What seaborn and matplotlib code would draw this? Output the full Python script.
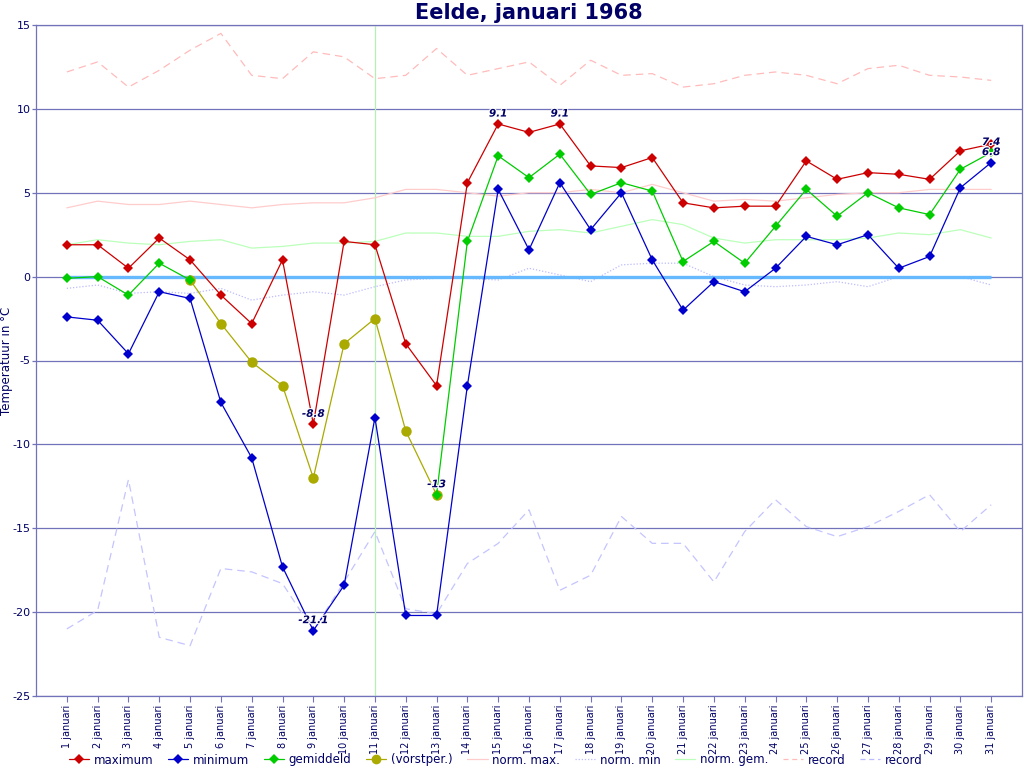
import matplotlib
matplotlib.use("Agg")
import matplotlib.pyplot as plt
import matplotlib.patheffects as pe
from matplotlib.lines import Line2D
import seaborn as sns
import numpy as np
import pandas as pd

# ---------------- data ----------------
days = list(range(1, 32))
day_labels = [f"{d} januari" for d in days]

max_temp = [1.9, 1.9, 0.5, 2.3, 1.0, -1.1, -2.8, 1.0, -8.8, 2.1, 1.9, -4.0, -6.5, 5.6, 9.1,
            8.6, 9.1, 6.6, 6.5, 7.1, 4.4, 4.1, 4.2, 4.2, 6.9, 5.8, 6.2, 6.1, 5.8, 7.5, 7.9]
min_temp = [-2.4, -2.6, -4.6, -0.9, -1.3, -7.5, -10.8, -17.3, -21.1, -18.4, -8.4, -20.2, -20.2, -6.5, 5.2,
            1.6, 5.6, 2.8, 5.0, 1.0, -2.0, -0.3, -0.9, 0.5, 2.4, 1.9, 2.5, 0.5, 1.2, 5.3, 6.8]
gem_temp = [-0.1, 0.0, -1.1, 0.8, -0.2, None, None, None, None, None, None, None, -13.0, 2.1, 7.2,
            5.9, 7.3, 4.9, 5.6, 5.1, 0.9, 2.1, 0.8, 3.0, 5.2, 3.6, 5.0, 4.1, 3.7, 6.4, 7.4]
vorst_temp = [None, None, None, None, -0.2, -2.8, -5.1, -6.5, -12.0, -4.0, -2.5, -9.2, -13.0, None, None,
              None, None, None, None, None, None, None, None, None, None, None, None, None, None, None, None]
norm_max = [4.1, 4.5, 4.3, 4.3, 4.5, 4.3, 4.1, 4.3, 4.4, 4.4, 4.7, 5.2, 5.2, 5.0, 4.8,
            5.0, 5.0, 5.2, 5.0, 5.5, 5.0, 4.5, 4.6, 4.5, 4.7, 4.9, 5.0, 5.0, 5.2, 5.2, 5.2]
norm_min = [-0.7, -0.5, -1.0, -0.9, -1.0, -0.7, -1.4, -1.1, -0.9, -1.1, -0.6, -0.2, -0.1, -0.1, -0.2,
            0.5, 0.1, -0.3, 0.7, 0.8, 0.8, 0.0, -0.5, -0.6, -0.5, -0.3, -0.6, 0.0, -0.1, 0.0, -0.5]
norm_gem = [1.9, 2.2, 2.0, 1.9, 2.1, 2.2, 1.7, 1.8, 2.0, 2.0, 2.1, 2.6, 2.6, 2.4, 2.4,
            2.7, 2.8, 2.6, 3.0, 3.4, 3.1, 2.3, 2.0, 2.2, 2.2, 2.2, 2.3, 2.6, 2.5, 2.8, 2.3]
record_max = [12.2, 12.8, 11.3, 12.3, 13.5, 14.5, 12.0, 11.8, 13.4, 13.1, 11.8, 12.0, 13.6, 12.0, 12.4,
              12.8, 11.4, 12.9, 12.0, 12.1, 11.3, 11.5, 12.0, 12.2, 12.0, 11.5, 12.4, 12.6, 12.0, 11.9, 11.7]
record_min = [-21.0, -19.9, -12.1, -21.5, -22.0, -17.4, -17.6, -18.3, -21.1, -18.2, -15.2, -19.8, -20.1, -17.1, -15.9,
              -13.9, -18.7, -17.8, -14.3, -15.9, -15.9, -18.2, -15.2, -13.3, -14.9, -15.5, -14.9, -14.0, -13.0, -15.2, -13.6]
marker_day = 11

# ---------------- style ----------------
NAVY = "#000066"
GRID = "#7272bb"
C_MAX, C_MIN, C_GEM, C_VORST = "#cc0000", "#0000cc", "#00cc00", "#aaaa00"

sns.set_theme(style="white")
plt.rcParams["font.family"] = ["DejaVu Sans"]
plt.rcParams["axes.unicode_minus"] = False

fig = plt.figure(figsize=(10.24, 7.68), dpi=100)
ax = fig.add_axes([36 / 1024, 1 - 696 / 768, (1022 - 36) / 1024, (696 - 25) / 768])


def segments(xs, ys):
    seg_x, seg_y = [], []
    for x, y in zip(xs, ys):
        if y is None:
            if seg_x:
                yield seg_x, seg_y
            seg_x, seg_y = [], []
        else:
            seg_x.append(x)
            seg_y.append(y)
    if seg_x:
        yield seg_x, seg_y


def draw(ys, **kw):
    for sx, sy in segments(days, ys):
        sns.lineplot(x=sx, y=sy, ax=ax, legend=False, **kw)


# background reference lines
ax.axvline(marker_day, color="#b4f0b4", lw=0.9, zorder=1)
draw(record_max, color="#ffbbbb", lw=0.9, linestyle=(0, (6, 4)), zorder=2)
draw(record_min, color="#c4c4ff", lw=0.9, linestyle=(0, (6, 4)), zorder=2)
draw(norm_max, color="#ffcccc", lw=0.9, zorder=2)
draw(norm_min, color="#bbbbff", lw=0.9, linestyle=(0, (1, 1.5)), zorder=2)
draw(norm_gem, color="#bbffbb", lw=0.9, zorder=2)
ax.hlines(0, days[0], days[-1], color="#66b8ff", lw=2.4, zorder=3)

# data series
mk = dict(markeredgewidth=0, zorder=5)
draw(vorst_temp, color=C_VORST, lw=0.9, marker="o", markersize=7.5, **mk)
draw(gem_temp, color=C_GEM, lw=0.9, marker="D", markersize=5, **mk)
draw(min_temp, color=C_MIN, lw=0.9, marker="D", markersize=5, **mk)
draw(max_temp, color=C_MAX, lw=0.9, marker="D", markersize=5, **mk)

# extreme labels
def annotate_extremes(ys):
    vals = [v for v in ys if v is not None]
    for target in (max(vals), min(vals)):
        for d, v in zip(days, ys):
            if v is not None and v == target:
                ax.annotate(f"{v:g}", (d, v), xytext=(0, 7.5), textcoords="offset points",
                            ha="center", va="center", fontsize=7.5, fontstyle="italic",
                            fontweight="bold", color=NAVY, zorder=8,
                            path_effects=[pe.withStroke(linewidth=1.5, foreground="white")])


annotate_extremes(max_temp)
annotate_extremes(min_temp)
annotate_extremes(gem_temp)

# axes
ax.set_xlim(0, 32)
ax.set_ylim(-25, 15)
ax.set_yticks(range(-25, 16, 5))
ax.set_xticks(days)
ax.set_xticklabels(day_labels, rotation=90, fontsize=7, color=NAVY)
ax.tick_params(axis="y", labelsize=8, colors=NAVY, length=3, width=0.9, pad=1, left=True)
ax.tick_params(axis="y", color=GRID)
ax.tick_params(axis="x", length=4, width=0.8, color=GRID, pad=2, bottom=True)
for lab in ax.get_yticklabels():
    lab.set_color(NAVY)
ax.grid(axis="y", color=GRID, lw=0.9)
ax.grid(axis="x", visible=False)
for s in ax.spines.values():
    s.set_color(GRID)
    s.set_linewidth(0.9)
ax.set_xlabel("")
ax.set_ylabel("Temperatuur in °C", fontsize=8.5, color=NAVY)
ax.yaxis.set_label_coords(-23 / 986, 0.5)
ax.set_title("Eelde, januari 1968", fontsize=15, fontweight="bold", color=NAVY, pad=4)

# legend
handles = [
    Line2D([], [], color=C_MAX, marker="D", markersize=5, markeredgewidth=0, lw=0.9),
    Line2D([], [], color=C_MIN, marker="D", markersize=5, markeredgewidth=0, lw=0.9),
    Line2D([], [], color=C_GEM, marker="D", markersize=5, markeredgewidth=0, lw=0.9),
    Line2D([], [], color=C_VORST, marker="o", markersize=7, markeredgewidth=0, lw=0.9),
    Line2D([], [], color="#ffcccc", lw=0.9),
    Line2D([], [], color="#bbbbff", lw=0.9, linestyle=(0, (1, 1.5))),
    Line2D([], [], color="#bbffbb", lw=0.9),
    Line2D([], [], color="#ffbbbb", lw=0.9, linestyle=(0, (4, 3))),
    Line2D([], [], color="#bbbbff", lw=0.9, linestyle=(0, (4, 3))),
]
labels = ["maximum", "minimum", "gemiddeld", "(vorstper.)", "norm. max.", "norm. min",
          "norm. gem.", "record", "record"]
leg = fig.legend(handles, labels, loc="center", bbox_to_anchor=(496 / 1024, 1 - 760 / 768),
                 ncol=9, frameon=False, fontsize=8.5, handlelength=1.7, handletextpad=0.4,
                 columnspacing=1.25, borderpad=0)
for t in leg.get_texts():
    t.set_color(NAVY)

fig.savefig("out.png", dpi=100)
